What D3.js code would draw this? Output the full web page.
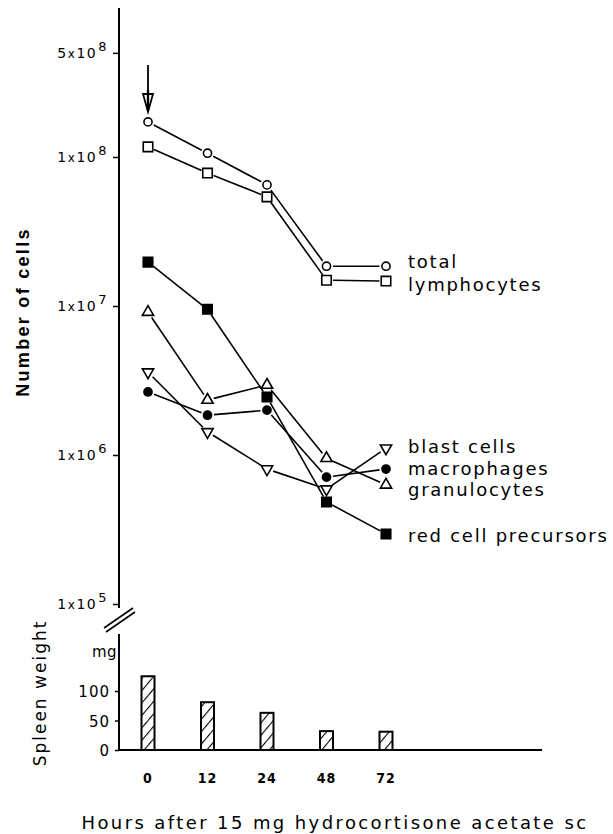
<!DOCTYPE html>
<html>
<head>
<meta charset="utf-8">
<script src="https://cdn.jsdelivr.net/npm/d3@7"></script>
<style>
  html, body { margin: 0; padding: 0; background: #fff; }
  svg { display: block; }
  text { font-family: "DejaVu Sans", sans-serif; fill: #000; }
</style>
</head>
<body>
<svg id="chart" width="613" height="834"></svg>
<script>
// ---------------- data ----------------
const hours = ["0", "12", "24", "48", "72"];
const total = [1.72e8, 1.06e8, 6.5e7, 1.85e7, 1.85e7];
const lymphocytes = [1.17e8, 7.8e7, 5.4e7, 1.49e7, 1.47e7];
const redCellPrecursors = [1.97e7, 9.5e6, 2.45e6, 4.84e5, 2.95e5];
const granulocytes = [9.1e6, 2.34e6, 2.95e6, 9.5e5, 6.3e5];
const macrophages = [2.65e6, 1.85e6, 2.0e6, 7.1e5, 8.05e5];
const blastCells = [3.6e6, 1.43e6, 8.05e5, 5.9e5, 1.11e6];
const spleenWeight = [125, 81, 63, 32, 31];
const cellTicks = [1e5, 1e6, 1e7, 1e8, 5e8];
const cellTickMantissa = ["1", "1", "1", "1", "5"];
const cellTickExponent = ["5", "6", "7", "8", "8"];
const weightTicks = [0, 50, 100];
const seriesNames = ["total", "lymphocytes", "blast cells", "macrophages", "granulocytes", "red cell precursors"];

// ---------------- layout ----------------
const svg = d3.select("#chart");
const axisX = 119;
const x = d3.scalePoint().domain(hours).range([148, 386]);
const y = d3.scaleLog().domain([1e5, 1e9]).range([604, 8]);
const yw = d3.scaleLinear().domain([0, 100]).range([750, 691]);

const series = [
  { name: "total", values: total, sym: "circle", fill: "#fff" },
  { name: "lymphocytes", values: lymphocytes, sym: "square", fill: "#fff" },
  { name: "red cell precursors", values: redCellPrecursors, sym: "square", fill: "#000" },
  { name: "granulocytes", values: granulocytes, sym: "triUp", fill: "#fff" },
  { name: "macrophages", values: macrophages, sym: "circle", fill: "#000" },
  { name: "blast cells", values: blastCells, sym: "triDown", fill: "#fff" }
];

// ---------------- top axis ----------------
const yAxis = d3.axisLeft(y).tickValues(cellTicks).tickSize(6).tickFormat("");
const gy = svg.append("g").attr("transform", `translate(${axisX},0)`).call(yAxis);
gy.select(".domain").attr("d", `M0,${y(1e9)}V${y(1e5) + 4}`).attr("stroke", "#000").attr("stroke-width", 2);
gy.selectAll(".tick line").attr("stroke", "#000").attr("stroke-width", 1.5);

cellTicks.forEach((v, i) => {
  const t = svg.append("text")
    .attr("x", 108).attr("y", y(v) + 5)
    .attr("text-anchor", "end")
    .style("font-size", "14px").style("letter-spacing", "1.5px");
  t.append("tspan").text(cellTickMantissa[i]);
  t.append("tspan").text("x").style("font-size", "12px");
  t.append("tspan").text("10");
  t.append("tspan").text(cellTickExponent[i]).attr("dy", -7).attr("dx", 1).style("font-size", "13px");
});

// axis break marks
[0, 4].forEach(off => {
  svg.append("line")
    .attr("x1", 104 + off * 0.5).attr("y1", 628 + off)
    .attr("x2", 133 + off * 0.5).attr("y2", 608 + off)
    .attr("stroke", "#000").attr("stroke-width", 1.6);
});

// arrow
const ax = x("0");
svg.append("line").attr("x1", ax).attr("x2", ax).attr("y1", 65).attr("y2", 110)
  .attr("stroke", "#000").attr("stroke-width", 1.8);
svg.append("path")
  .attr("d", `M${ax - 5},${94}L${ax + 5},${94}L${ax},${112}Z`)
  .attr("fill", "#fff").attr("stroke", "#000").attr("stroke-width", 1.8)
  .attr("stroke-linejoin", "miter");
svg.append("line").attr("x1", ax).attr("x2", ax).attr("y1", 90).attr("y2", 110)
  .attr("stroke", "#000").attr("stroke-width", 2.4);

// ---------------- lines & markers ----------------
const gap = 6.5;
series.forEach(s => {
  const pts = s.values.map((v, i) => [x(hours[i]), y(v)]);
  for (let i = 0; i < pts.length - 1; i++) {
    const [x1, y1] = pts[i], [x2, y2] = pts[i + 1];
    const dx = x2 - x1, dy = y2 - y1, len = Math.hypot(dx, dy);
    const ux = dx / len, uy = dy / len;
    svg.append("line")
      .attr("x1", x1 + ux * gap).attr("y1", y1 + uy * gap)
      .attr("x2", x2 - ux * gap).attr("y2", y2 - uy * gap)
      .attr("stroke", "#000").attr("stroke-width", 1.6);
  }
});

function symbolPath(sym) {
  if (sym === "circle") return d3.symbol(d3.symbolCircle, 52)();
  if (sym === "square") return d3.symbol(d3.symbolSquare, 90)();
  return d3.symbol(d3.symbolTriangle, 55)();
}
series.forEach(s => {
  svg.append("g").selectAll("path")
    .data(s.values)
    .join("path")
    .attr("d", symbolPath(s.sym))
    .attr("transform", (v, i) => {
      let t = `translate(${x(hours[i])},${y(v)})`;
      if (s.sym === "triDown") t += " rotate(180)";
      return t;
    })
    .attr("fill", s.fill)
    .attr("stroke", "#000")
    .attr("stroke-width", 1.6);
});

// labels
const labelY = [268, 291, 453, 475, 496, 542];
seriesNames.forEach((n, i) => {
  svg.append("text").attr("x", 408).attr("y", labelY[i])
    .style("font-size", "18px").style("letter-spacing", "1.75px").text(n);
});

// y title
svg.append("text")
  .attr("transform", `translate(29,312) rotate(-90)`)
  .attr("text-anchor", "middle")
  .style("font-family", "Liberation Sans, Arial, sans-serif")
  .style("font-size", "18px").style("font-weight", "bold").style("letter-spacing", "2.3px")
  .text("Number of cells");

// ---------------- bottom bar chart ----------------
const defs = svg.append("defs");
const pat = defs.append("pattern").attr("id", "hatch")
  .attr("patternUnits", "userSpaceOnUse").attr("width", 8).attr("height", 8)
  .attr("patternTransform", "rotate(40)");
pat.append("rect").attr("width", 8).attr("height", 8).attr("fill", "#fff");
pat.append("line").attr("x1", 0).attr("y1", 0).attr("x2", 0).attr("y2", 8)
  .attr("stroke", "#000").attr("stroke-width", 2.2);

const wAxis = d3.axisLeft(yw).tickValues(weightTicks).tickSize(4).tickFormat("");
const gw = svg.append("g").attr("transform", `translate(${axisX},0)`).call(wAxis);
gw.select(".domain").attr("d", `M0,634V${yw(0)}`).attr("stroke", "#000").attr("stroke-width", 2);
gw.selectAll(".tick line").attr("stroke", "#000").attr("stroke-width", 1.5);
weightTicks.forEach(v => {
  svg.append("text").attr("x", 110).attr("y", yw(v) + 6)
    .attr("text-anchor", "end").style("font-size", "15px").style("letter-spacing", "1px").text(v);
});
svg.append("text").attr("x", 92).attr("y", 657).style("font-size", "15px").style("letter-spacing", "0.5px").text("mg");

const barW = 13;
svg.append("g").selectAll("rect")
  .data(spleenWeight)
  .join("rect")
  .attr("x", (d, i) => x(hours[i]) - barW / 2)
  .attr("y", d => yw(d))
  .attr("width", barW)
  .attr("height", d => yw(0) - yw(d))
  .attr("fill", "url(#hatch)")
  .attr("stroke", "#000").attr("stroke-width", 2);

// baseline
svg.append("line").attr("x1", axisX).attr("x2", 542).attr("y1", yw(0)).attr("y2", yw(0))
  .attr("stroke", "#000").attr("stroke-width", 2);

// x tick labels
hours.forEach(h => {
  svg.append("text").attr("x", x(h)).attr("y", 783)
    .attr("text-anchor", "middle").style("font-size", "14px").style("letter-spacing", "1px")
    .style("font-family", "DejaVu Sans Condensed, DejaVu Sans, sans-serif").style("font-weight", "bold")
    .text(h);
});

svg.append("text").attr("x", 335).attr("y", 829).attr("text-anchor", "middle")
  .style("font-size", "18px").style("letter-spacing", "2.4px")
  .text("Hours after 15 mg hydrocortisone acetate sc");

svg.append("text")
  .attr("transform", `translate(46,693) rotate(-90)`)
  .attr("text-anchor", "middle")
  .style("font-size", "17px").style("letter-spacing", "2px")
  .text("Spleen weight");
</script>
</body>
</html>
